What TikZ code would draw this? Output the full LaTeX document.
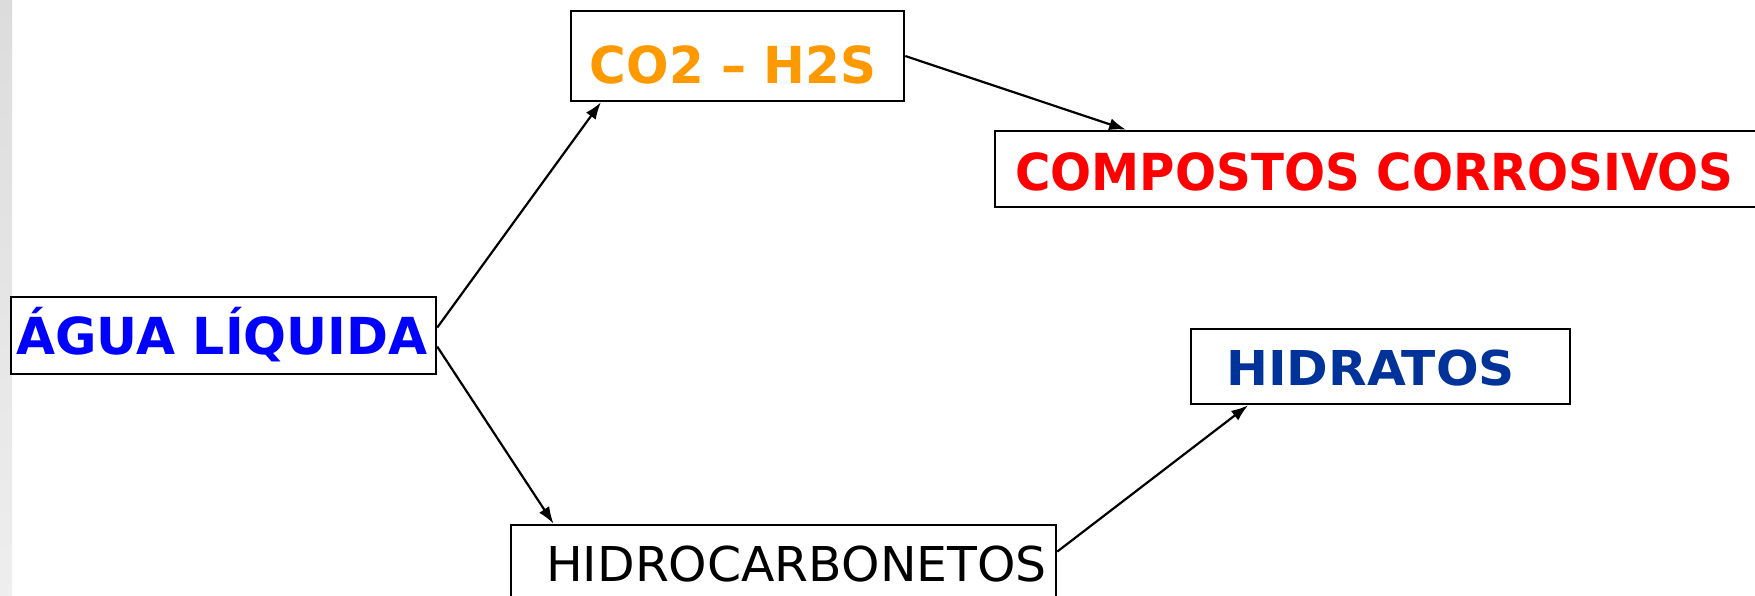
\documentclass[tikz,border=0pt]{standalone}
\usepackage{fontspec}
\setmainfont{DejaVu Sans}
\usepackage{graphicx}
\usetikzlibrary{calc,arrows.meta}
\definecolor{cblue}{HTML}{0000FF}
\definecolor{corange}{HTML}{FF9900}
\definecolor{cred}{HTML}{FF0000}
\definecolor{cnavy}{HTML}{003399}
\definecolor{stripA}{RGB}{220,220,220}
\definecolor{stripB}{RGB}{238,238,238}
\tikzset{
  box/.style={draw=black, line width=2.5pt, fill=white, inner sep=0pt,
    text depth=0pt},
  boldtext/.style={font=\fontsize{51pt}{60pt}\selectfont\bfseries, text height=37pt},
  regtext/.style={font=\fontsize{48pt}{58pt}\selectfont, text height=35pt},
  arr/.style={line width=2.2pt, -{Latex[length=17pt,width=12pt]}}
}
\begin{document}
\begin{tikzpicture}[x=1pt,y=-1pt]
\useasboundingbox (0,0) rectangle (1755,595);
\clip (0,0) rectangle (1755,595);
\fill[white] (0,0) rectangle (1755,595);
\shade[top color=stripA, bottom color=stripB] (0,0) rectangle (12,595);
\node[box, boldtext, text=cblue, minimum width=425pt, minimum height=77pt] (agua) at (223.5,335.5)
  {\scalebox{0.99}[1]{ÁGUA LÍQUIDA}\hspace*{3pt}};
\node[box, boldtext, text=corange, minimum width=333pt, minimum height=90pt] (co2) at (737.5,56)
  {\raisebox{-9pt}{\scalebox{0.98}[1]{CO2 – H2S}}\hspace*{9pt}};
\node[box, boldtext, text=cred, minimum width=767pt, minimum height=76pt] (comp) at (1378.5,169)
  {\raisebox{-2.5pt}{\scalebox{0.947}[1]{COMPOSTOS CORROSIVOS}}\hspace*{8pt}};
\node[box, boldtext, text=cnavy, font=\fontsize{48pt}{58pt}\selectfont\bfseries, text height=35pt,
  minimum width=379pt, minimum height=75pt] (hidra) at (1380.5,366.5)
  {\raisebox{-1.5pt}{\scalebox{1.045}[1]{HIDRATOS}}\hspace*{20pt}};
\node[box, regtext, text=black, minimum width=545pt, minimum height=77pt] (hidro) at (783.5,563.5)
  {\hspace*{26pt}\scalebox{1.018}[1]{HIDROCARBONETOS}};
\draw[arr] ($(agua.north east)!0.40!(agua.south east)$) -- ($(co2.south west)!0.093!(co2.south east)$);
\draw[arr] ($(agua.north east)!0.64!(agua.south east)$) -- ($(hidro.north west)!0.08!(hidro.north east)$);
\draw[arr] (co2.east) -- ($(comp.north west)!0.172!(comp.north east)$);
\draw[arr] ($(hidro.north east)!0.35!(hidro.south east)$) -- ($(hidra.south west)!0.153!(hidra.south east)$);
\end{tikzpicture}
\end{document}
